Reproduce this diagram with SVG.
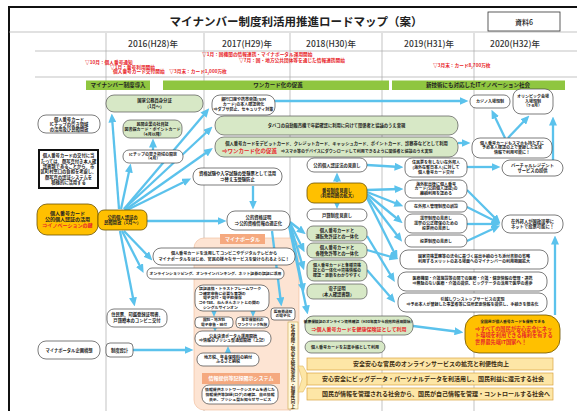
<svg xmlns="http://www.w3.org/2000/svg" width="577" height="411" viewBox="0 0 577 411">
<defs>
<style>
text{font-family:"Noto Sans CJK JP","Noto Sans",sans-serif;font-weight:700;fill:#222;text-anchor:middle}
.w{fill:#fff;stroke:#444;stroke-width:0.7}
.g{fill:#d7e8c6;stroke:#555;stroke-width:0.7}
.o{fill:#ffc000;stroke:#6b5200;stroke-width:0.8}
.bar{fill:#8fc640}
.y{fill:#fde6a6;stroke:#d9a441;stroke-width:0.7}
.sal{fill:#f5a97f}
.red{fill:#e8262b}
.c{fill:none;stroke:#5bc2ec;stroke-width:2.3;marker-end:url(#ah)}
.sep{stroke:#a9a9a9;stroke-width:0.7}
.ms{font-size:4.7px;fill:#e8262b;text-anchor:start}
.yr{font-size:8.5px;font-weight:500;fill:#333}
.yt{font-size:6px;fill:#3b2a10}
</style>
<marker id="ah" viewBox="0 0 9 8" refX="5.5" refY="4" markerWidth="9" markerHeight="8" markerUnits="userSpaceOnUse" orient="auto"><path d="M0,0L9,4L0,8z" fill="#5bc2ec"/></marker>
</defs>
<rect x="0" y="0" width="577" height="411" fill="#fff"/>

<g id="frame">
<path d="M9,411V7H577" fill="none" stroke="#111" stroke-width="2"/>
<path class="sep" d="M9,32H577M35,51H577M35,77H577"/>
<path class="sep" d="M106,33V411M204,33V411M290,33V411M382,33V411M474,33V411"/>
<text x="296" y="26" font-size="11.5">マイナンバー制度利活用推進ロードマップ（案）</text>
<rect x="488" y="12" width="72" height="19" fill="#fff" stroke="#333" stroke-width="0.8"/>
<text x="524" y="24.5" font-size="7" style="font-weight:500">資料6</text>
<text class="yr" x="153" y="47">2016(H28)年</text>
<text class="yr" x="247" y="47">2017(H29)年</text>
<text class="yr" x="331" y="47">2018(H30)年</text>
<text class="yr" x="429" y="47">2019(H31)年</text>
<text class="yr" x="515" y="47">2020(H32)年</text>
<text class="ms" x="85" y="63.5">▽10月：個人番号通知</text>
<text class="ms" x="110" y="68.5">▽1月：番号利用開始</text>
<text class="ms" x="113" y="73.3">個人番号カード交付開始　▽3月末：カード1,000万枚</text>
<text class="ms" x="202" y="56">▽1月：国機関の情報連携・マイナポータル運用開始</text>
<text class="ms" x="239" y="61.5">▽7月：国・地方公共団体等を通じた情報連携開始</text>
<text class="ms" x="433" y="67">▽3月末：カード8,700万枚</text>
<rect class="bar" x="86" y="80.5" width="64" height="9.5"/>
<text x="118" y="87.4" font-size="5.5">マイナンバー制度導入</text>
<rect class="bar" x="163" y="80.5" width="226" height="9.5"/>
<text x="278" y="87.4" font-size="5.5">ワンカード化の促進</text>
<rect class="bar" x="392" y="80.5" width="173" height="9.5"/>
<text x="478" y="87.4" font-size="5.5">新技術にも対応したITイノベーション社会</text>
</g>

<g id="portal-area">
<rect x="194" y="238" width="105" height="172" rx="10" fill="#fde4d3" stroke="#f0b896" stroke-width="0.6"/>
</g>

<g id="connectors">
<path class="c" d="M119,209L112,117"/>
<path class="c" d="M121,209L130,167"/>
<path class="c" d="M153,150L153,142"/>
<path class="c" d="M124,209L207,111"/>
<path class="c" d="M124,209L210,129"/>
<path class="c" d="M125,210L210,150"/>
<path class="c" d="M125,211L188,180"/>
<path class="c" d="M147,221L223,221"/>
<path class="c" d="M124,231L150,258"/>
<path class="c" d="M122,231L142,270"/>
<path class="c" d="M120,231L134,303"/>
<path class="c" d="M253,186L253,206"/>
<path class="c" d="M290,222L303,232"/>
<path class="c" d="M290,223L303,249"/>
<path class="c" d="M290,224L303,267"/>
<path class="c" d="M290,225L303,289"/>
<path class="c" d="M289,226L307,311"/>
<path class="c" d="M272,231L281,303"/>
<path class="c" d="M337,182L337,176"/>
<path class="c" d="M337,203L337,205.5"/>
<path class="c" d="M367,165L400,167"/>
<path class="c" d="M367,190L400,189"/>
<path class="c" d="M367,192L400,205"/>
<path class="c" d="M367,194L400,221"/>
<path class="c" d="M367,196L400,239"/>
<path class="c" d="M367,198L396,256"/>
<path class="c" d="M367,250L395,258"/>
<path class="c" d="M367,236L393,279"/>
<path class="c" d="M367,270L393,300"/>
<path class="c" d="M467,167L497,167"/>
<path class="c" d="M467,190L498,221"/>
<path class="c" d="M467,207L497,222"/>
<path class="c" d="M467,224L497,224"/>
<path class="c" d="M467,241L497,227"/>
<path class="c" d="M458,143L467,143"/>
<path class="c" d="M505,138L493,113"/>
<path class="c" d="M508,138L527,118"/>
<path class="c" d="M553,160L553,120"/>
<path class="c" d="M555,315L555,239"/>
<path class="c" d="M275,101L465,101"/>
<path class="c" d="M413,326L460,332"/>
<path class="c" d="M133,350L190,350"/>
<path class="c" d="M214,310L214,313.5"/>
<path class="c" d="M253,310L253,313.5"/>
<path class="c" d="M215,327L215,328.5"/>
<path class="c" d="M228,354L228,349.5"/>
</g>

<g id="n1"><rect class="w" x="38" y="115" width="62" height="18" rx="8"/>
<text font-size="4.3"><tspan x="69" y="120.5">個人番号カード</tspan><tspan x="69" y="125.5">ICチップの空き領域</tspan><tspan x="69" y="130.5">の活用及び民間開放</tspan></text></g>

<g id="n2"><rect x="39" y="150" width="59" height="38" fill="#fff" stroke="#111" stroke-width="2"/>
<text font-size="4.3"><tspan x="68.5" y="157.3">個人番号カードの交付に当</tspan><tspan x="68.5" y="162.6">たっては、顔写真付き本人確</tspan><tspan x="68.5" y="167.9">認書類であることから、市</tspan><tspan x="68.5" y="173.2">区町村窓口の負担を考慮し、</tspan><tspan x="68.5" y="178.5">顔写真の認証システムを</tspan><tspan x="68.5" y="183.8">積極的に活用する</tspan></text></g>

<g id="n3"><rect class="o" x="37" y="204" width="61" height="31" rx="10"/>
<text font-size="5"><tspan x="67.5" y="215.3">個人番号カード</tspan><tspan x="67.5" y="221.3">公的個人認証の活用</tspan><tspan x="67.5" y="227.3" class="red">⇒イノベーションの鍵</tspan></text></g>

<g id="n4"><rect class="o" x="98" y="210" width="49" height="20" rx="6"/>
<text font-size="4.3"><tspan x="122.5" y="218.8">公的個人認証の</tspan><tspan x="122.5" y="224.3">民間開放（1月～）</tspan></text></g>

<g id="n5"><rect class="w" x="38" y="341" width="62" height="18" rx="8"/>
<text font-size="4.3" x="69" y="351.5">マイナポータル企画構想</text></g>

<g id="n6"><rect class="w" x="106" y="343" width="27" height="14" rx="4"/>
<text font-size="4.3" x="119.5" y="351.5">制度設計</text></g>

<g id="n7"><rect class="w" x="107" y="309" width="60" height="18" rx="7"/>
<text font-size="4.3"><tspan x="137" y="316.2">住民票、印鑑登録証明書、</tspan><tspan x="137" y="321.7">戸籍謄本のコンビニ交付</tspan></text></g>

<g id="n8"><rect class="g" x="106" y="95" width="97" height="17" rx="8"/>
<text font-size="4.3"><tspan x="154.5" y="102.3">国家公務員身分証</tspan><tspan x="154.5" y="107.8">（1月～）</tspan></text></g>

<g id="n9"><rect class="g" x="123" y="120" width="59" height="18" rx="7"/>
<text font-size="4"><tspan x="152.5" y="126.2">民間企業の社員証</tspan><tspan x="152.5" y="131">図書館カード・ポイントカード</tspan><tspan x="152.5" y="135.8">（4月以降）</tspan></text></g>

<g id="n10"><rect class="w" x="123" y="150" width="60" height="13" rx="6"/>
<text font-size="4"><tspan x="153" y="155.5">ICチップの空き領域の開放</tspan><tspan x="153" y="160.3">（4月）</tspan></text></g>

<g id="n11"><rect class="w" x="212" y="95" width="63" height="20" rx="8"/>
<text font-size="4"><tspan x="243.5" y="101.4">銀行口座や携帯電話(SIM</tspan><tspan x="243.5" y="106.4">カード)の本人確認強化</tspan><tspan x="243.5" y="111.4">⇒ダブサ防止、セキュリティ対策</tspan></text></g>

<g id="n12"><rect class="g" x="215" y="116" width="243" height="19" rx="9"/>
<text font-size="4.3" x="336.5" y="127">タバコの自動販売機で年齢確認に利用に向けて関係者と協議のうえ実現</text></g>

<g id="n13"><rect class="g" x="215" y="137" width="243" height="20" rx="9"/>
<text font-size="4.3" x="336.5" y="144.5">個人番号カードをデビットカード、クレジットカード、キャッシュカード、ポイントカード、診察券などとして利用</text>
<text class="red" font-size="5.5" x="222" y="153" style="text-anchor:start">⇒ワンカード化の促進</text>
<text font-size="4" x="281" y="152.5" style="text-anchor:start">⇒スマホ等のデバイスにダウンロードして利用できるように関係者と協議のうえ実現</text></g>

<g id="n14"><rect class="w" x="193" y="168" width="89" height="17" rx="8"/>
<text font-size="4.3"><tspan x="237.5" y="175.3">資格試験や入学試験の受験票として活用</tspan><tspan x="237.5" y="180.8">⇒替え玉受験防止</tspan></text></g>

<g id="n15"><rect class="w" x="227" y="211" width="63" height="19" rx="8"/>
<text font-size="4.3"><tspan x="258.5" y="219.3">公的資格証明</tspan><tspan x="258.5" y="224.8">⇒公的資格情報の適正化</tspan></text></g>

<g id="n16"><rect class="sal" x="220" y="234" width="45" height="10"/>
<text font-size="5" x="242.5" y="240.8" style="fill:#fff">マイナポータル</text></g>

<g id="n18"><rect class="w" x="153" y="248" width="142" height="17" rx="8"/>
<text font-size="4.1"><tspan x="224" y="255.3">個人番号カードを活用してコンビニやデジタルテレビから</tspan><tspan x="224" y="260.8">マイナポータルをはじめ、官民の様々なサービスを受けられるように！</tspan></text></g>

<g id="n19"><rect class="w" x="147" y="268" width="137" height="11" rx="5"/>
<text font-size="3.9" x="215.5" y="275">オンラインショッピング、オンラインバンキング、ネット証券の認証に活用</text></g>

<g id="n20"><rect class="w" x="195" y="285" width="74" height="26" rx="8"/>
<text font-size="3.9" style="text-anchor:start"><tspan x="199" y="290.2">認証連携・トラストフレームワーク</tspan><tspan x="199" y="294.8">⇒確定申告に必要な書類の</tspan><tspan x="199" y="299.4">　電子交付・電子的保存</tspan><tspan x="199" y="304">⇒e-Tax、ねんきんネットとの間の</tspan><tspan x="199" y="308.6">　シングルサインオン</tspan></text></g>

<g id="n21"><rect class="w" x="195" y="317" width="38" height="11" rx="4"/>
<text font-size="3.7"><tspan x="214" y="321.2">国税・地方税</tspan><tspan x="214" y="325.5">電子申告・納付</tspan></text></g>

<g id="n22"><rect class="w" x="236" y="317" width="33" height="11" rx="4"/>
<text font-size="3.7"><tspan x="252.5" y="321.2">年金保険料の</tspan><tspan x="252.5" y="325.5">ワンクリック免除</tspan></text></g>

<g id="n23"><rect class="w" x="271" y="308" width="24" height="12" rx="3"/>
<text font-size="3.7"><tspan x="283" y="312.8">医療費通知</tspan><tspan x="283" y="317.2">の電子化</tspan></text></g>

<g id="n24"><rect class="w" x="195" y="331" width="76" height="15" rx="7"/>
<text font-size="4"><tspan x="233" y="337.5">公金決済ポータル運用開始</tspan><tspan x="233" y="342.3">⇒情報のプッシュ型通知開始（上記）</tspan></text></g>

<g id="n25"><rect class="w" x="197" y="353" width="62" height="13" rx="6"/>
<text font-size="4"><tspan x="228" y="358.5">地方税、年金保険料の納付</tspan><tspan x="228" y="363.3">ふるさと納税</tspan></text></g>

<g id="n26"><rect class="sal" x="202" y="373" width="78" height="11"/>
<text font-size="5" x="241" y="380.3" style="fill:#fff">情報提供等記録開示システム</text></g>

<g id="n27"><rect class="w" x="202" y="385" width="76" height="19" rx="7"/>
<text font-size="3.9"><tspan x="240" y="391.2">情報提供ネットワークシステムを通じた</tspan><tspan x="240" y="395.9">情報提供等記録(ログ)の確認、自己情報</tspan><tspan x="240" y="400.6">表示、プッシュ型お知らせサービス</tspan></text></g>

<g id="n28"><rect x="288" y="322" width="10" height="87" fill="#fff8dc" stroke="#c9a54a" stroke-width="0.6"/>
<text font-size="4.4" x="293" y="324.5" style="writing-mode:vertical-rl;text-anchor:start;fill:#3b2a10">社会保障・税の手続の効率化・利便性向上</text></g>

<g id="n29"><polygon points="298,366 303,366 310,379 303,392 298,392 302,379" fill="#fde6a6" stroke="#e0b860" stroke-width="0.6"/></g>

<g id="n30"><rect class="w" x="307" y="158" width="60" height="14" rx="7"/>
<text font-size="4.3" x="337" y="166.5">公的個人認証法の見直し</text></g>

<g id="n31"><rect class="o" x="307" y="183" width="60" height="20" rx="7"/>
<text font-size="4.3"><tspan x="337" y="191.8">番号制度見直し</tspan><tspan x="337" y="197.3">（利用範囲の拡大）</tspan></text></g>

<g id="n32"><rect class="w" x="307" y="209" width="60" height="12" rx="6"/>
<text font-size="4.3" x="337" y="216.5">戸籍制度見直し</text></g>

<g id="n33"><rect class="g" x="307" y="226" width="60" height="15" rx="6"/>
<text font-size="4.3"><tspan x="337" y="232.3">個人番号カードと</tspan><tspan x="337" y="237.8">運転免許証との一体化</tspan></text></g>

<g id="n34"><rect class="g" x="307" y="243" width="60" height="15" rx="6"/>
<text font-size="4.3"><tspan x="337" y="249.3">個人番号カードと</tspan><tspan x="337" y="254.8">各種免許等との一体化</tspan></text></g>

<g id="n35"><rect class="g" x="307" y="260" width="60" height="21" rx="7"/>
<text font-size="4"><tspan x="337" y="266.9">個人番号カードと各種資格</tspan><tspan x="337" y="271.9">証との一体化⇒資格情報の</tspan><tspan x="337" y="276.9">確認・更新をわかりやすく</tspan></text></g>

<g id="n36"><rect class="g" x="307" y="284" width="60" height="15" rx="6"/>
<text font-size="4.3"><tspan x="337" y="290.3">電子証明</tspan><tspan x="337" y="295.8">（本人確認書類）</tspan></text></g>

<g id="n37"><rect class="g" x="305" y="316" width="108" height="19" rx="8"/>
<text font-size="3.7" x="359" y="323">健康保険証のオンライン資格確認（H30年度から段階的運用開始）</text>
<text class="red" font-size="5" x="359" y="331">⇒個人番号カードを健康保険証として利用</text></g>

<g id="n38"><rect class="g" x="305" y="341" width="80" height="12" rx="6"/>
<text font-size="4" x="345" y="348.5">個人番号カードをお薬手帳として利用</text></g>

<g id="n39"><rect class="y" x="307" y="358" width="246" height="12"/>
<text class="yt" x="431" y="366.2">安全安心な官民のオンラインサービスの拡充と利便性向上</text></g>
<g id="n40"><rect class="y" x="307" y="373" width="246" height="12"/>
<text class="yt" x="433" y="381.2">安心安全にビッグデータ・パーソナルデータを利活用し、国民利益に還元する社会</text></g>
<g id="n41"><rect class="y" x="307" y="388" width="246" height="12"/>
<text class="yt" x="436" y="396.2">国民が情報を管理される社会から、国民が自己情報を管理・コントロールする社会へ</text></g>

<g id="n42"><rect class="w" x="405" y="158" width="62" height="19" rx="7"/>
<text font-size="4"><tspan x="436" y="164.1">住民票を有しない在外邦人</tspan><tspan x="436" y="168.9">(海外在留日本人)に対して</tspan><tspan x="436" y="173.7">個人番号カード交付</tspan></text></g>

<g id="n43"><rect class="w" x="405" y="180" width="62" height="18" rx="7"/>
<text font-size="4"><tspan x="436" y="185.6">海外転出後に個人番号</tspan><tspan x="436" y="190.4">カード(公的個人認証)の</tspan><tspan x="436" y="195.2">継続利用を認める</tspan></text></g>

<g id="n44"><rect class="w" x="405" y="201" width="62" height="11" rx="5"/>
<text font-size="4" x="436" y="208">在外邦人管理制度の創設</text></g>

<g id="n45"><rect class="w" x="405" y="214" width="62" height="19" rx="7"/>
<text font-size="4"><tspan x="436" y="220.1">選挙制度の見直し</tspan><tspan x="436" y="224.9">選挙の公正確保のための</tspan><tspan x="436" y="229.7">投票所の見直し</tspan></text></g>

<g id="n46"><rect class="w" x="405" y="235" width="62" height="12" rx="6"/>
<text font-size="4" x="436" y="242.5">投票制度の見直し</text></g>

<g id="n47"><rect class="w" x="400" y="250" width="148" height="19" rx="8"/>
<text font-size="4"><tspan x="474" y="258.3">国家資格業務等の法令に基づく届出手続のうち添付書類の省略</tspan><tspan x="474" y="263.3">利用するメリットのある場面へのマイナンバーの利用範囲拡大</tspan></text></g>

<g id="n48"><rect class="w" x="398" y="272" width="149" height="19" rx="8"/>
<text font-size="4"><tspan x="472.5" y="280.3">医療機関・介護施設等の間での医療・介護・健康情報の管理・連携</tspan><tspan x="472.5" y="285.3">⇒無駄のない医療・介護の提供、ビッグデータの活用で医学の進歩</tspan></text></g>

<g id="n49"><rect class="w" x="398" y="293" width="149" height="19" rx="8"/>
<text font-size="4"><tspan x="472.5" y="301.3">引越しワンストップサービスの実現</tspan><tspan x="472.5" y="306.3">⇒予め本人が登録した事業者等に住所変更情報を提供し、手続きを簡素化</tspan></text></g>

<g id="n50"><rect class="w" x="472" y="138" width="80" height="20" rx="8"/>
<text font-size="4"><tspan x="512" y="144.6">個人番号カードもスマホも持たずに</tspan><tspan x="512" y="149.4">予め本人確認の上で登録した生体</tspan><tspan x="512" y="154.2">情報で利用可能に！</tspan></text></g>

<g id="n51"><rect class="w" x="502" y="160" width="61" height="16" rx="8"/>
<text font-size="4.3"><tspan x="532.5" y="166.8">バーチャルレジデント</tspan><tspan x="532.5" y="171.8">サービスの提供</tspan></text></g>

<g id="n52"><rect class="w" x="502" y="215" width="61" height="18" rx="8"/>
<text font-size="4.3"><tspan x="532.5" y="222.8">在外邦人が国政選挙に</tspan><tspan x="532.5" y="227.8">ネットで投票可能に！</tspan></text></g>

<g id="n53"><rect class="o" x="465" y="315" width="95" height="38" rx="14"/>
<text font-size="3.8" x="512.5" y="323">全国民が個人番号カードを保有できる</text>
<text class="red" font-size="5.2" style="text-anchor:start"><tspan x="475" y="330.5">⇒すべての国民が安心安全にネッ</tspan><tspan x="475" y="337">ト環境を利用できる権利を有する</tspan><tspan x="475" y="343.5">世界最先端IT国家へ！</tspan></text></g>

<g id="n54"><rect class="w" x="470" y="95" width="40" height="13" rx="6"/>
<text font-size="4" x="490" y="103.3">カジノ入場規制</text></g>

<g id="n55"><rect class="w" x="513" y="89" width="40" height="25" rx="8"/>
<text font-size="4"><tspan x="533" y="97.7">オリンピック会場</tspan><tspan x="533" y="102.5">入場規制</tspan><tspan x="533" y="107.3">（7-8月）</tspan></text></g>
</svg>
